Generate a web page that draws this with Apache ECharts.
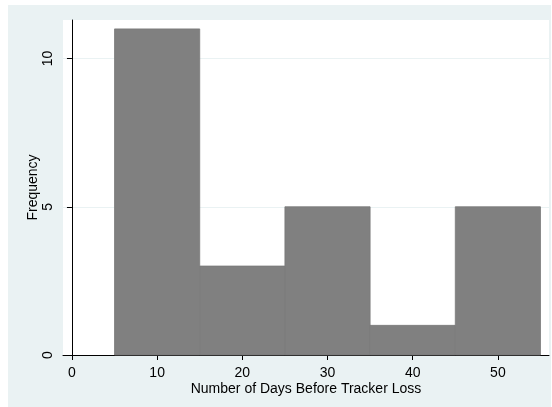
<!DOCTYPE html>
<html>
<head>
<meta charset="utf-8">
<script src="https://cdn.jsdelivr.net/npm/echarts@6/dist/echarts.min.js"></script>
<style>html,body{margin:0;padding:0;background:#fff}#c{width:552px;height:407px}</style>
</head>
<body>
<div id="c"></div>
<script>
// Histogram bins: start, end, frequency
const binStarts = [5, 15, 25, 35, 45];
const binEnds = [15, 25, 35, 45, 55];
const frequencies = [11, 3, 5, 1, 5];
const xTicks = [0, 10, 20, 30, 40, 50];
const yTicks = [0, 5, 10];
const xTitle = 'Number of Days Before Tracker Loss';
const yTitle = 'Frequency';

const data = binStarts.map((s, i) => [s, binEnds[i], frequencies[i]]);
const font = 'Liberation Sans, Arial, sans-serif';

const chart = echarts.init(document.getElementById('c'), null, {renderer: 'canvas'});
chart.setOption({
  animation: false,
  backgroundColor: '#ffffff',
  graphic: [{
    type: 'rect', z: -10, silent: true,
    shape: {x: 8, y: 5, width: 543, height: 402},
    style: {fill: '#eaf2f3'}
  }],
  grid: {left: 63, top: 20, right: 3, bottom: 52, show: true, backgroundColor: '#ffffff', borderWidth: 0},
  xAxis: {
    type: 'value', min: -1.05, max: 56,
    name: xTitle, nameLocation: 'middle', nameGap: 27, nameMoveOverlap: false,
    nameTextStyle: {color: '#000', fontFamily: font, fontSize: 14},
    axisLine: {show: true, lineStyle: {color: '#000', width: 1}},
    axisTick: {show: true, length: 5, lineStyle: {color: '#000'}, customValues: xTicks},
    axisLabel: {color: '#000', fontFamily: font, fontSize: 14, margin: 11, customValues: xTicks},
    splitLine: {show: false}
  },
  yAxis: {
    type: 'value', min: 0, max: 11.3,
    name: yTitle, nameLocation: 'middle', nameGap: 23, nameRotate: 90, nameMoveOverlap: false,
    nameTextStyle: {color: '#000', fontFamily: font, fontSize: 14},
    axisLine: {show: true, lineStyle: {color: '#000', width: 1}},
    axisTick: {show: true, length: 5, lineStyle: {color: '#000'}, customValues: yTicks},
    axisLabel: {color: '#000', fontFamily: font, fontSize: 14, margin: 8, rotate: 90, customValues: yTicks},
    splitLine: {show: true, lineStyle: {color: '#eaf2f3', width: 1}}
  },
  series: [{
    type: 'custom',
    data: data,
    encode: {x: [0, 1], y: 2},
    renderItem: function (params, api) {
      const p0 = api.coord([api.value(0), 0]);
      const p1 = api.coord([api.value(1), api.value(2)]);
      return {
        type: 'rect',
        shape: {x: p0[0], y: p1[1], width: p1[0] - p0[0], height: p0[1] - p1[1]},
        style: {fill: '#808080', stroke: '#787878', lineWidth: 0.8}
      };
    }
  }]
});
</script>
</body>
</html>
